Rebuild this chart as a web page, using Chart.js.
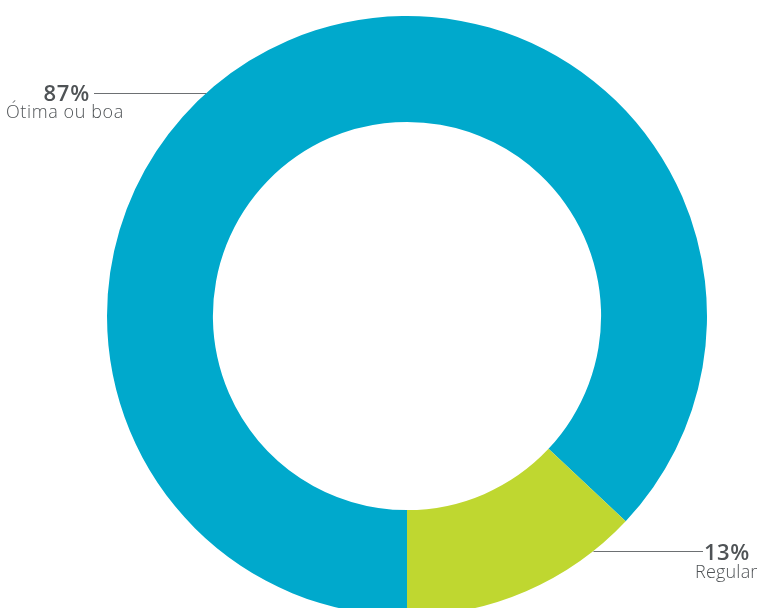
<!DOCTYPE html>
<html>
<head>
<meta charset="utf-8">
<script src="https://cdn.jsdelivr.net/npm/chart.js@4.4.1/dist/chart.umd.min.js"></script>
<style>
  html, body { margin: 0; padding: 0; background: #fff; overflow: hidden; }
  #wrap { position: relative; width: 761px; height: 632px; }
</style>
</head>
<body>
<div id="wrap"><canvas id="donut" width="761" height="632"></canvas></div>
<script>
var categories = ['Ótima ou boa', 'Regular'];
var values = [87, 13];
var percentLabels = ['87%', '13%'];
var colors = ['#00a9cc', '#bfd730'];

// rótulos com linha guia (offset vertical a partir do centro, lado)
var labelRows = [
  { dy: -223, side: 'left' },
  { dy: 235, side: 'right' }
];

var pctFont = '600 22px "Open Sans"';
var catFont = '300 18px "Open Sans"';

var leaderPlugin = {
  id: 'leaderLabels',
  afterDraw: function (chart) {
    var ctx = chart.ctx;
    var arc = chart.getDatasetMeta(0).data[0];
    var cx = arc.x, cy = arc.y, r = arc.outerRadius;
    ctx.save();
    ctx.fillStyle = '#4f5356';
    ctx.strokeStyle = '#6d7073';
    ctx.lineWidth = 1;
    labelRows.forEach(function (row, i) {
      var y = cy + row.dy;
      var dx = Math.sqrt(r * r - row.dy * row.dy);
      ctx.beginPath();
      if (row.side === 'left') {
        ctx.moveTo(cx - dx, y + 0.5);
        ctx.lineTo(94, y + 0.5);
        ctx.stroke();
        ctx.textAlign = 'right';
        ctx.font = pctFont;
        ctx.letterSpacing = '0.8px';
        ctx.fillText(percentLabels[i], 90, y + 8);
        ctx.textAlign = 'left';
        ctx.font = catFont;
        ctx.letterSpacing = '0.6px';
        ctx.fillText(categories[i], 6, y + 25);
      } else {
        ctx.moveTo(cx + dx, y + 0.5);
        ctx.lineTo(703, y + 0.5);
        ctx.stroke();
        ctx.textAlign = 'left';
        ctx.font = pctFont;
        ctx.letterSpacing = '0.5px';
        ctx.fillText(percentLabels[i], 704, y + 9);
        ctx.font = catFont;
        ctx.letterSpacing = '0.2px';
        ctx.fillText(categories[i], 695, y + 27);
      }
    });
    ctx.restore();
  }
};

var ctx = document.getElementById('donut').getContext('2d');
var chart = new Chart(ctx, {
  type: 'doughnut',
  data: {
    labels: categories,
    datasets: [{
      data: values,
      backgroundColor: colors,
      borderWidth: 0
    }]
  },
  options: {
    responsive: false,
    animation: false,
    rotation: 180,
    cutout: '64.7%',
    layout: { padding: { left: 107, right: 54, top: 16, bottom: 16 } },
    plugins: {
      legend: { display: false },
      tooltip: { enabled: false }
    }
  },
  plugins: [leaderPlugin]
});
</script>
</body>
</html>
